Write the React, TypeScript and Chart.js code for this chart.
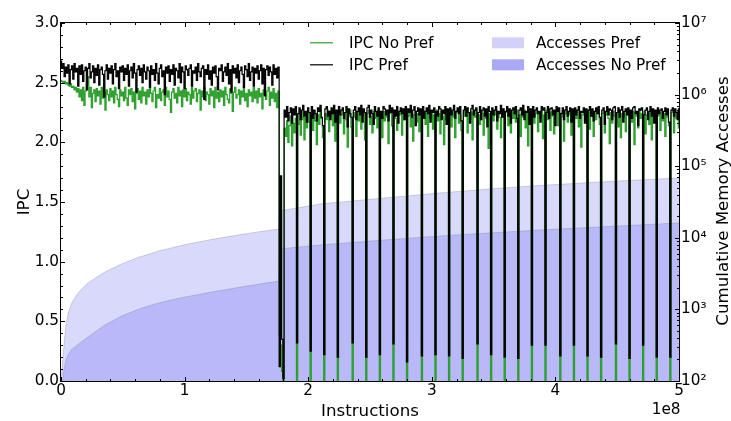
import React, { useEffect, useRef } from 'react';
import { Chart, registerables } from 'chart.js';

Chart.register(...registerables);

// ---- data ----
// IPC samples, one every SAMPLE_STEP instructions, starting at 0
const SAMPLE_STEP = 1e6;

const IPC_PREF: number[] = [
  2.68, 2.62, 2.66, 2.55, 2.63, 2.58, 2.65, 2.49, 2.61, 2.64,
  2.53, 2.66, 2.59, 2.62, 2.47, 2.64, 2.57, 2.65, 2.51, 2.60,
  2.63, 2.44, 2.62, 2.66, 2.54, 2.59, 2.64, 2.50, 2.62, 2.56,
  2.65, 2.48, 2.61, 2.63, 2.57, 2.38, 2.60, 2.65, 2.53, 2.62,
  2.58, 2.64, 2.49, 2.61, 2.66, 2.55, 2.60, 2.45, 2.63, 2.59,
  2.64, 2.52, 2.62, 2.57, 2.65, 2.47, 2.60, 2.63, 2.54, 2.66,
  2.58, 2.42, 2.61, 2.64, 2.56, 2.62, 2.50, 2.65, 2.59, 2.53,
  2.63, 2.60, 2.46, 2.64, 2.57, 2.61, 2.52, 2.66, 2.58, 2.49,
  2.62, 2.65, 2.55, 2.60, 2.40, 2.63, 2.58, 2.64, 2.51, 2.61,
  2.57, 2.65, 2.48, 2.62, 2.60, 2.54, 2.66, 2.50, 2.63, 2.59,
  2.45, 2.64, 2.61, 2.56, 2.62, 2.65, 2.47, 2.60, 2.58, 2.63,
  2.52, 2.66, 2.59, 2.55, 2.62, 2.64, 2.36, 2.61, 2.57, 2.65,
  2.53, 2.60, 2.48, 2.63, 2.58, 2.64, 2.55, 2.44, 2.62, 2.60,
  2.65, 2.51, 2.59, 2.63, 2.56, 2.66, 2.49, 2.61, 2.42, 2.64,
  2.58, 2.62, 2.54, 2.65, 2.50, 2.60, 2.63, 2.57, 2.46, 2.64,
  2.61, 2.55, 2.66, 2.52, 2.59, 2.63, 2.47, 2.62, 2.58, 2.64,
  2.53, 2.60, 2.65, 2.49, 2.62, 2.39, 2.61, 2.64, 2.56, 2.63,
  2.59, 2.48, 2.65, 2.57, 2.62, 2.54, 2.63,
  0.12, 1.72, 0.35, 0.02,
  2.27, 2.21, 2.30, 2.18, 2.25, 2.29, 2.16, 2.28, 2.23, 2.30, 0.32,
  2.24, 2.29, 2.19, 2.27, 2.31, 2.22, 2.26, 2.17, 2.29, 2.25, 0.25,
  2.30, 2.20, 2.27, 2.24, 2.18, 2.29, 2.26, 2.31, 2.21, 2.14, 0.22,
  2.28, 2.30, 2.22, 2.26, 2.19, 2.29, 2.24, 2.31, 2.17, 2.27, 0.20,
  2.30, 2.23, 2.27, 2.29, 2.20, 2.25, 2.30, 2.13, 2.28, 2.24, 2.21, 0.32,
  2.27, 2.30, 2.19, 2.26, 2.29, 2.23, 2.31, 2.17, 2.28, 2.25, 0.20,
  2.29, 2.31, 2.21, 2.27, 2.24, 2.15, 2.30, 2.26, 2.22, 2.29, 0.22,
  2.26, 2.20, 2.30, 2.28, 2.23, 2.27, 2.18, 2.31, 2.25, 2.29, 0.31,
  2.27, 2.22, 2.30, 2.16, 2.26, 2.29, 2.24, 2.28, 2.19, 2.30, 0.16,
  2.28, 2.25, 2.31, 2.21, 2.27, 2.30, 2.14, 2.26, 2.29, 2.23, 2.28, 0.21,
  2.30, 2.20, 2.26, 2.29, 2.24, 2.31, 2.17, 2.27, 2.25, 2.29, 0.22,
  2.26, 2.22, 2.30, 2.28, 2.19, 2.27, 2.24, 2.30, 2.15, 2.28, 0.21,
  2.29, 2.23, 2.27, 2.31, 2.20, 2.26, 2.29, 2.24, 2.30, 2.18, 0.19,
  2.27, 2.30, 2.22, 2.29, 2.25, 2.16, 2.28, 2.31, 2.23, 2.27, 2.29, 0.31,
  2.25, 2.30, 2.19, 2.27, 2.29, 2.22, 2.28, 2.13, 2.30, 2.26, 0.22,
  2.29, 2.23, 2.27, 2.30, 2.18, 2.26, 2.24, 2.31, 2.21, 2.28, 0.20,
  2.26, 2.30, 2.22, 2.28, 2.16, 2.27, 2.29, 2.24, 2.30, 2.20, 0.19,
  2.27, 2.29, 2.23, 2.31, 2.19, 2.26, 2.25, 2.30, 2.15, 2.28, 0.30,
  2.30, 2.21, 2.27, 2.29, 2.24, 2.26, 2.17, 2.30, 2.27, 2.29, 0.30,
  2.25, 2.30, 2.20, 2.28, 2.29, 2.23, 2.27, 2.14, 2.30, 2.26, 2.29, 0.21,
  2.24, 2.29, 2.19, 2.27, 2.30, 2.22, 2.26, 2.29, 2.17, 2.28, 0.30,
  2.29, 2.23, 2.27, 2.30, 2.20, 2.26, 2.25, 2.29, 2.16, 2.28, 0.21,
  2.27, 2.30, 2.22, 2.28, 2.18, 2.26, 2.29, 2.24, 2.30, 2.21, 0.20,
  2.27, 2.29, 2.15, 2.26, 2.30, 2.23, 2.28, 2.27, 2.19, 2.29, 2.30, 0.31,
  2.25, 2.29, 2.21, 2.27, 2.30, 2.17, 2.26, 2.28, 2.23, 2.29, 0.19,
  2.27, 2.20, 2.29, 2.30, 2.24, 2.26, 2.14, 2.28, 2.27, 2.29, 0.30,
  2.23, 2.27, 2.29, 2.19, 2.26, 2.30, 2.22, 2.28, 2.16, 2.27, 0.20,
  2.29, 2.24, 2.27, 2.28, 2.20, 2.26, 2.29, 2.23, 2.28, 2.17, 0.20,
  2.27, 2.29, 2.22, 2.28, 2.25, 2.19, 2.28,
];

const IPC_NO_PREF: number[] = [
  2.52, 2.51, 2.50, 2.51, 2.49, 2.50, 2.48, 2.47, 2.49, 2.46,
  2.47, 2.44, 2.46, 2.42, 2.45, 2.38, 2.44, 2.35, 2.46, 2.31,
  2.43, 2.49, 2.55, 2.38, 2.46, 2.29, 2.41, 2.44, 2.34, 2.45,
  2.39, 2.43, 2.32, 2.46, 2.37, 2.42, 2.27, 2.44, 2.40, 2.35,
  2.45, 2.38, 2.43, 2.33, 2.46, 2.40, 2.36, 2.30, 2.44, 2.39,
  2.42, 2.35, 2.46, 2.37, 2.31, 2.44, 2.40, 2.45, 2.34, 2.42,
  2.28, 2.41, 2.45, 2.36, 2.43, 2.33, 2.46, 2.39, 2.42, 2.32,
  2.44, 2.38, 2.45, 2.41, 2.34, 2.43, 2.46, 2.29, 2.40, 2.37,
  2.45, 2.35, 2.42, 2.44, 2.31, 2.46, 2.38, 2.43, 2.36, 2.25,
  2.42, 2.45, 2.37, 2.41, 2.33, 2.46, 2.39, 2.43, 2.30, 2.44,
  2.38, 2.45, 2.35, 2.42, 2.40, 2.32, 2.46, 2.37, 2.43, 2.45,
  2.34, 2.41, 2.44, 2.27, 2.43, 2.38, 2.46, 2.35, 2.42, 2.40,
  2.32, 2.45, 2.39, 2.43, 2.29, 2.46, 2.37, 2.42, 2.34, 2.44,
  2.38, 2.43, 2.31, 2.46, 2.40, 2.36, 2.33, 2.45, 2.41, 2.26,
  2.42, 2.46, 2.37, 2.40, 2.44, 2.32, 2.43, 2.38, 2.45, 2.35,
  2.41, 2.30, 2.44, 2.39, 2.42, 2.34, 2.46, 2.37, 2.43, 2.33,
  2.45, 2.38, 2.41, 2.28, 2.44, 2.40, 2.36, 2.43, 2.46, 2.31,
  2.42, 2.37, 2.45, 2.34, 2.41, 2.29, 2.43,
  0.38, 0.30, 0.08, 0.0,
  2.12, 2.05, 2.18, 2.00, 2.14, 2.22, 1.97, 2.16, 2.08, 2.20, 0.0,
  2.15, 2.24, 2.06, 2.19, 2.26, 2.02, 2.21, 2.12, 2.25, 2.17, 0.0,
  2.22, 2.10, 2.26, 2.18, 1.98, 2.23, 2.15, 2.27, 2.20, 2.04, 0.0,
  2.24, 2.19, 2.27, 2.09, 2.22, 2.26, 2.14, 2.25, 2.01, 2.21, 0.0,
  2.26, 2.16, 2.23, 2.27, 2.07, 2.24, 2.19, 1.96, 2.22, 2.27, 2.13, 0.0,
  2.25, 2.21, 2.05, 2.26, 2.18, 2.27, 2.11, 2.23, 2.26, 2.02, 0.0,
  2.24, 2.27, 2.15, 2.22, 2.08, 2.26, 2.20, 2.25, 2.12, 2.27, 0.0,
  2.23, 2.04, 2.26, 2.18, 2.25, 2.21, 1.99, 2.24, 2.27, 2.14, 0.0,
  2.26, 2.20, 2.10, 2.25, 2.23, 2.27, 2.06, 2.24, 2.19, 2.26, 0.0,
  2.22, 2.27, 2.13, 2.25, 2.01, 2.23, 2.26, 2.17, 2.24, 2.09, 2.27, 0.0,
  2.21, 2.25, 2.15, 2.27, 2.05, 2.24, 2.20, 2.26, 2.11, 2.23, 0.0,
  2.27, 2.18, 2.24, 2.07, 2.26, 2.22, 1.98, 2.25, 2.19, 2.27, 0.0,
  2.24, 2.13, 2.26, 2.21, 2.04, 2.25, 2.27, 2.16, 2.23, 2.10, 0.0,
  2.26, 2.22, 2.27, 2.08, 2.24, 2.19, 2.26, 2.02, 2.25, 2.21, 2.27, 0.0,
  2.23, 2.15, 2.26, 2.24, 2.06, 2.27, 2.20, 2.25, 1.95, 2.24, 0.0,
  2.26, 2.18, 2.23, 2.27, 2.11, 2.25, 2.21, 2.04, 2.26, 2.22, 0.0,
  2.25, 2.27, 2.14, 2.24, 2.08, 2.26, 2.20, 2.25, 2.17, 2.27, 0.0,
  2.23, 2.05, 2.26, 2.21, 2.27, 2.12, 2.24, 1.97, 2.25, 2.22, 0.0,
  2.26, 2.16, 2.24, 2.27, 2.09, 2.25, 2.20, 2.26, 2.03, 2.23, 0.0,
  2.27, 2.19, 2.25, 2.10, 2.26, 2.22, 2.07, 2.24, 2.27, 2.14, 2.25, 0.0,
  2.21, 2.26, 2.01, 2.24, 2.27, 2.17, 2.23, 2.25, 2.06, 2.26, 0.0,
  2.24, 2.20, 2.27, 2.13, 2.25, 1.96, 2.23, 2.26, 2.18, 2.24, 0.0,
  2.27, 2.11, 2.25, 2.22, 2.05, 2.26, 2.19, 2.24, 2.27, 2.15, 0.0,
  2.24, 2.26, 2.08, 2.23, 2.27, 2.20, 1.99, 2.25, 2.16, 2.26, 2.22, 0.0,
  2.25, 2.13, 2.27, 2.04, 2.24, 2.21, 2.26, 2.09, 2.23, 2.27, 0.0,
  2.24, 2.17, 2.26, 1.98, 2.25, 2.22, 2.12, 2.27, 2.20, 2.24, 0.0,
  2.26, 2.07, 2.23, 2.25, 2.15, 2.27, 2.02, 2.24, 2.19, 2.26, 0.0,
  2.22, 2.25, 2.10, 2.27, 2.18, 2.24, 2.05, 2.26, 2.21, 2.14, 0.0,
  2.25, 2.27, 2.08, 2.24, 2.20, 2.26, 2.12,
];

// Cumulative memory accesses (instructions in units of 1e8)
const ACC_PREF_X = [0, 0.004, 0.012, 0.024, 0.040, 0.061, 0.087, 0.138, 0.218, 0.356, 0.477, 0.623, 0.801, 1.027, 1.23, 1.432, 1.594, 1.76, 1.768, 2.095, 2.62, 3.066, 3.47, 3.875, 4.36, 5.0];
const ACC_PREF = [100, 100, 167, 318, 606, 921, 1227, 1694, 2339, 3327, 4217, 5309, 6607, 8166, 9550, 10914, 12078, 13183, 23680, 29650, 35970, 42270, 48080, 53700, 60140, 68400];

const ACC_NO_PREF_X = [0, 0.012, 0.024, 0.040, 0.057, 0.081, 0.113, 0.218, 0.356, 0.494, 0.639, 0.761, 0.9, 1.027, 1.23, 1.432, 1.594, 1.76, 1.768, 2.095, 2.62, 3.066, 3.47, 3.875, 4.36, 5.0];
const ACC_NO_PREF = [100, 100, 142, 196, 231, 271, 299, 412, 606, 813, 1023, 1189, 1365, 1514, 1758, 2018, 2239, 2483, 6980, 7930, 9310, 10590, 11670, 12850, 14160, 16100];

const X_TICKS = [0, 1, 2, 3, 4, 5];
const Y_TICKS = [0, 0.5, 1, 1.5, 2, 2.5, 3];
const Y2_EXPONENTS = [2, 3, 4, 5, 6, 7];
const SUP: Record<number, string> = { 2: '²', 3: '³', 4: '⁴', 5: '⁵', 6: '⁶', 7: '⁷' };

const LEGEND_LINES = [
  { label: 'IPC No Pref', color: '#2ca02c' },
  { label: 'IPC Pref', color: '#000000' },
];
const LEGEND_PATCHES = [
  { label: 'Accesses Pref', color: '#d2d2f9' },
  { label: 'Accesses No Pref', color: '#a9a9f5' },
];

const FONT = "'DejaVu Sans', sans-serif";
const TICK_SIZE = 15.28;
const LABEL_SIZE = 16.67;

const decorPlugin = {
  id: 'decor',
  afterDatasetsDraw(chart: any) {
    const { ctx, chartArea: a, scales } = chart;
    const xs = scales.x, ys = scales.y, y2 = scales.y2;
    ctx.save();
    ctx.strokeStyle = '#000';
    ctx.lineWidth = 1;
    ctx.beginPath();
    // x ticks (major every 1e8, minor every 0.2e8), top and bottom, inward
    for (let k = 0; k <= 25; k++) {
      const px = Math.round(xs.getPixelForValue(k * 0.2e8)) + 0.5;
      const len = k % 5 === 0 ? 4 : 2;
      ctx.moveTo(px, a.bottom); ctx.lineTo(px, a.bottom - len);
      ctx.moveTo(px, a.top); ctx.lineTo(px, a.top + len);
    }
    // left y ticks (major 0.5, minor 0.1)
    for (let k = 0; k <= 30; k++) {
      const py = Math.round(ys.getPixelForValue(k * 0.1)) + 0.5;
      const len = k % 5 === 0 ? 4 : 2;
      ctx.moveTo(a.left, py); ctx.lineTo(a.left + len, py);
    }
    // right log ticks
    for (const e of Y2_EXPONENTS) {
      for (let m = 1; m <= 9; m++) {
        if (e === 7 && m > 1) break;
        const py = Math.round(y2.getPixelForValue(m * Math.pow(10, e))) + 0.5;
        const len = m === 1 ? 4 : 2;
        ctx.moveTo(a.right, py); ctx.lineTo(a.right - len, py);
      }
    }
    ctx.stroke();
    // frame
    ctx.strokeRect(a.left - 0.5, a.top - 0.5, a.right - a.left + 1, a.bottom - a.top + 1);

    // axis titles
    ctx.fillStyle = '#000';
    ctx.font = `${LABEL_SIZE}px ${FONT}`;
    ctx.textAlign = 'center';
    ctx.textBaseline = 'alphabetic';
    ctx.fillText('Instructions', (a.left + a.right) / 2, 416);
    ctx.save();
    ctx.translate(29, (a.top + a.bottom) / 2);
    ctx.rotate(-Math.PI / 2);
    ctx.fillText('IPC', 0, 0);
    ctx.restore();
    ctx.save();
    ctx.translate(727.5, 201);
    ctx.rotate(-Math.PI / 2);
    ctx.fillText('Cumulative Memory Accesses', 0, 0);
    ctx.restore();
    // offset text
    ctx.font = `${TICK_SIZE}px ${FONT}`;
    ctx.textAlign = 'right';
    ctx.fillText('1e8', a.right + 1.5, 414);

    // legend
    const rows = [42.8, 64.8];
    ctx.textAlign = 'left';
    LEGEND_LINES.forEach((it, i) => {
      ctx.strokeStyle = it.color;
      ctx.lineWidth = 1.2;
      ctx.beginPath();
      ctx.moveTo(310, rows[i]); ctx.lineTo(333, rows[i]);
      ctx.stroke();
      ctx.fillStyle = '#000';
      ctx.fillText(it.label, 349, rows[i] + 5.6);
    });
    LEGEND_PATCHES.forEach((it, i) => {
      ctx.fillStyle = it.color;
      ctx.fillRect(492, rows[i] - 5.5, 32, 11);
      ctx.fillStyle = '#000';
      ctx.fillText(it.label, 536, rows[i] + 5.6);
    });
    ctx.restore();
  },
};

export default function App() {
  const ref = useRef<HTMLCanvasElement>(null);
  useEffect(() => {
    const canvas = ref.current;
    if (!canvas) return;
    Chart.defaults.font.family = FONT;
    Chart.defaults.font.size = TICK_SIZE;
    Chart.defaults.color = '#000';

    const pref = IPC_PREF.map((v, i) => ({ x: i * SAMPLE_STEP, y: v }));
    const noPref = IPC_NO_PREF.map((v, i) => ({ x: i * SAMPLE_STEP, y: v }));
    const accPref = ACC_PREF.map((v, i) => ({ x: ACC_PREF_X[i] * 1e8, y: v }));
    const accNoPref = ACC_NO_PREF.map((v, i) => ({ x: ACC_NO_PREF_X[i] * 1e8, y: v }));

    const chart = new Chart(canvas, {
      type: 'line',
      data: {
        datasets: [
          { label: 'IPC Pref', data: pref, yAxisID: 'y', borderColor: '#000', borderWidth: 1.2, pointRadius: 0, fill: false, stepped: 'middle' },
          { label: 'IPC No Pref', data: noPref, yAxisID: 'y', borderColor: '#2ca02c', borderWidth: 1.2, pointRadius: 0, fill: false, stepped: 'middle' },
          { label: 'Accesses No Pref', data: accNoPref, yAxisID: 'y2', borderColor: 'rgba(140,140,175,0.45)', borderWidth: 1, backgroundColor: '#b9b9fa', pointRadius: 0, fill: 'start', tension: 0 },
          { label: 'Accesses Pref', data: accPref, yAxisID: 'y2', borderColor: 'rgba(150,150,180,0.45)', borderWidth: 1, backgroundColor: '#d9d9fb', pointRadius: 0, fill: 'start', tension: 0 },
        ],
      },
      options: {
        animation: false,
        responsive: false,
        maintainAspectRatio: false,
        events: [],
        layout: { padding: { top: 23, left: 0, right: 0, bottom: 0 } },
        plugins: { legend: { display: false }, tooltip: { enabled: false } },
        scales: {
          x: {
            type: 'linear', min: 0, max: 5e8,
            grid: { display: false, drawTicks: false },
            border: { display: false },
            afterBuildTicks: (s: any) => { s.ticks = X_TICKS.map((v) => ({ value: v * 1e8 })); },
            ticks: { padding: 1, maxRotation: 0, autoSkip: false, callback: (v: any) => String(Math.round(Number(v) / 1e8)) },
            afterFit: (s: any) => { s.height = 40; },
          },
          y: {
            type: 'linear', position: 'left', min: 0, max: 3,
            grid: { display: false, drawTicks: false },
            border: { display: false },
            afterBuildTicks: (s: any) => { s.ticks = Y_TICKS.map((v) => ({ value: v })); },
            ticks: { padding: 2, callback: (v: any) => Number(v).toFixed(1) },
            afterFit: (s: any) => { s.width = 61; },
          },
          y2: {
            type: 'logarithmic', position: 'right', min: 100, max: 1e7,
            grid: { display: false, drawTicks: false },
            border: { display: false },
            afterBuildTicks: (s: any) => { s.ticks = Y2_EXPONENTS.map((e) => ({ value: Math.pow(10, e) })); },
            ticks: { padding: 2, autoSkip: false, callback: (v: any) => '10' + SUP[Math.round(Math.log10(Number(v)))] },
            afterFit: (s: any) => { s.width = 52; },
          },
        },
      },
      plugins: [decorPlugin],
    });
    return () => chart.destroy();
  }, []);

  return (
    <div style={{ position: 'fixed', left: 0, top: 0, width: 731, height: 421, background: '#fff' }}>
      <canvas ref={ref} width={731} height={421} style={{ display: 'block', width: 731, height: 421 }} />
    </div>
  );
}
